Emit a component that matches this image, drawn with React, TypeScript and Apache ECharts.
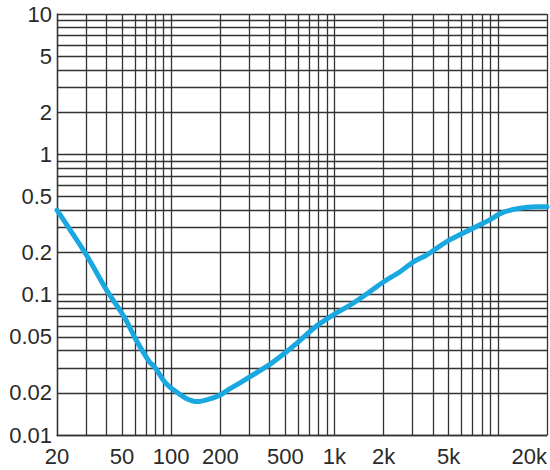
import React, { useEffect, useRef } from "react";
import * as echarts from "echarts";

const freqHz = [20, 30.4, 40.2, 51.9, 61, 73.6, 79, 92, 102, 123, 144, 170, 200, 225, 270, 340, 410, 495, 570, 790, 1000, 1250, 1590, 2000, 2520, 3040, 3660, 4840, 6100, 7360, 8850, 10670, 13460, 17000, 20000];
const level = [0.4, 0.19, 0.108, 0.0686, 0.0475, 0.0332, 0.0306, 0.0236, 0.0212, 0.0183, 0.0173, 0.018, 0.0193, 0.0211, 0.0239, 0.0282, 0.0324, 0.0382, 0.0438, 0.0607, 0.0728, 0.0844, 0.102, 0.1236, 0.1456, 0.1715, 0.1915, 0.238, 0.2735, 0.305, 0.34, 0.384, 0.412, 0.423, 0.423];

const xLabelValues = [20, 50, 100, 200, 500, 1000, 2000, 5000, 20000];
const xGridValues = [20, 30, 40, 50, 60, 70, 80, 90, 100, 200, 300, 400, 500, 600, 700, 800, 900, 1000, 2000, 3000, 4000, 5000, 6000, 7000, 8000, 9000, 10000, 20000];
const yLabelValues = [0.01, 0.02, 0.05, 0.1, 0.2, 0.5, 1, 2, 5, 10];
const yGridValues = [0.01, 0.02, 0.03, 0.04, 0.05, 0.06, 0.07, 0.08, 0.09, 0.1, 0.2, 0.3, 0.4, 0.5, 0.6, 0.7, 0.8, 0.9, 1, 2, 3, 4, 5, 6, 7, 8, 9, 10];

const gridLine = { color: "#333333", width: 1.3 };
const labelColor = "#2a2a2a";
const font = "Liberation Sans";

function fmtX(v: number) {
  const n = Math.round(v);
  return n >= 1000 ? n / 1000 + "k" : String(n);
}
function fmtY(v: number) {
  return String(Number(v.toPrecision(3)));
}

export default function App() {
  const ref = useRef<HTMLDivElement>(null);
  useEffect(() => {
    if (!ref.current) return;
    const chart = echarts.init(ref.current, undefined, { renderer: "svg" });
    chart.setOption({
      animation: false,
      backgroundColor: "#ffffff",
      grid: { left: 57, top: 14, width: 494, height: 421, containLabel: false },
      xAxis: {
        type: "log",
        logBase: 10,
        min: 20,
        max: 20000,
        axisLine: { show: true, lineStyle: gridLine },
        axisTick: { show: false, customValues: xGridValues },
        splitLine: { show: true, lineStyle: gridLine },
        axisLabel: {
          customValues: xLabelValues,
          formatter: (v: number) => fmtX(v),
          color: labelColor,
          fontFamily: font,
          fontSize: 22,
          margin: 10,
          alignMaxLabel: "right",
        },
      },
      yAxis: {
        type: "log",
        logBase: 10,
        min: 0.01,
        max: 10,
        axisLine: { show: true, lineStyle: gridLine },
        axisTick: { show: false, customValues: yGridValues },
        splitLine: { show: true, lineStyle: gridLine },
        axisLabel: {
          customValues: yLabelValues,
          formatter: (v: number) => fmtY(v),
          color: labelColor,
          fontFamily: font,
          fontSize: 22,
          margin: 5,
        },
      },
      series: [
        {
          type: "line",
          data: freqHz.map((f, i) => [f, level[i]]),
          showSymbol: false,
          smooth: 0.3,
          clip: true,
          lineStyle: { color: "#1aa8e0", width: 5, cap: "round", join: "round" },
        },
      ],
    });
    return () => chart.dispose();
  }, []);
  return (
    <div
      ref={ref}
      style={{ position: "fixed", left: 0, top: 0, width: 550, height: 470 }}
    />
  );
}
